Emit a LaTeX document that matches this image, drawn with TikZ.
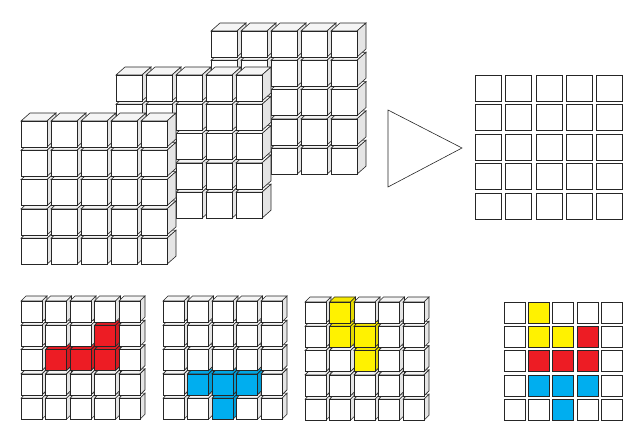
\documentclass[tikz,border=0pt]{standalone}
\definecolor{R}{RGB}{237,28,36}
\definecolor{B}{RGB}{0,174,239}
\definecolor{Y}{RGB}{255,242,0}
\colorlet{w}{white}
\tikzset{edge/.style={draw=black!85,line width=0.6pt}}
% #1 x, #2 y, #3 size, #4 dx, #5 dy, #6 colour
\newcommand\mycube[6]{%
 \filldraw[edge,fill=#6!96!black] (#1,#2)--++(#4,-#5)--++(#3,0)--++(-#4,#5)--cycle;
 \filldraw[edge,fill=#6!90!black] (#1+#3,#2)--++(#4,-#5)--++(0,#3)--++(-#4,#5)--cycle;
 \filldraw[edge,fill=#6] (#1,#2) rectangle ++(#3,#3);}
\newcommand\bigstack[2]{%
 \foreach \r in {4,3,2,1,0}{\foreach \c in {0,...,4}{\mycube{#1+30*\c}{#2+29.3*\r}{26}{9}{8}{w}}}}
\newcommand\panel[3]{%
 \foreach \r/\row in {#3}{\foreach \cl [count=\c from 0] in \row {\mycube{#1+24.5*\c}{#2+24.3*\r}{21}{5}{5}{\cl}}}}
\begin{document}
\begin{tikzpicture}[x=1pt,y=-1pt]
\useasboundingbox (0,0) rectangle (633,430);
\bigstack{211}{31}
\bigstack{116}{75}
\bigstack{21}{121}
\draw[edge] (388,110)--(462,148)--(388,187)--cycle;
\foreach \r in {0,...,4}\foreach \c in {0,...,4}{\draw[edge] (475+30.4*\c,75+29.5*\r) rectangle ++(26,26);}
\panel{21}{301}{4/{w,w,w,w,w},3/{w,w,w,w,w},2/{w,R,R,R,w},1/{w,w,w,R,w},0/{w,w,w,w,w}}
\panel{163}{301}{4/{w,w,B,w,w},3/{w,B,B,B,w},2/{w,w,w,w,w},1/{w,w,w,w,w},0/{w,w,w,w,w}}
\panel{305}{302}{4/{w,w,w,w,w},3/{w,w,w,w,w},2/{w,w,Y,w,w},1/{w,Y,Y,w,w},0/{w,Y,w,w,w}}
\foreach \r/\row in {0/{w,Y,w,w,w},1/{w,Y,Y,R,w},2/{w,R,R,R,w},3/{w,B,B,B,w},4/{w,w,B,w,w}}{
 \foreach \cl [count=\c from 0] in \row {\filldraw[edge,fill=\cl] (504+24.3*\c,302+24.3*\r) rectangle ++(21,21);}}
\end{tikzpicture}
\end{document}
